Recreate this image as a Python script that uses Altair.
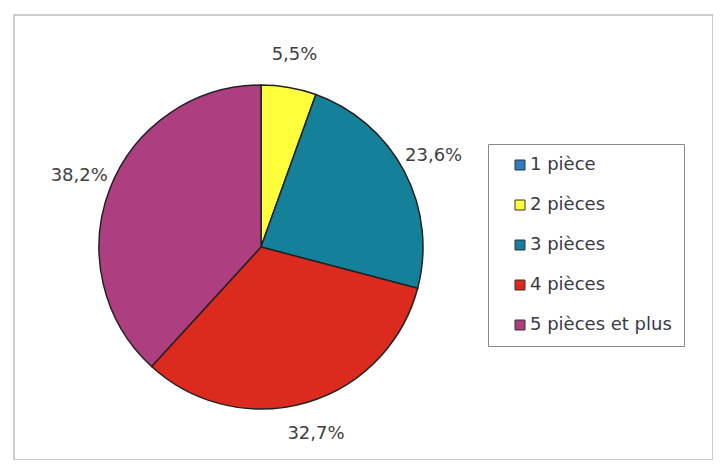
import altair as alt
import pandas as pd

categories = ["1 pièce", "2 pièces", "3 pièces", "4 pièces", "5 pièces et plus"]
values = [0.0, 5.5, 23.6, 32.7, 38.2]
colors = ["#2f7dc0", "#ffff3c", "#15809a", "#dc2a1e", "#ad3f80"]

df = pd.DataFrame({"cat": categories, "val": values, "idx": list(range(len(categories)))})
df["label"] = [f"{v:.1f}".replace(".", ",") + "%" for v in values]

cx, cy, R = 247, 232, 162
FONT = "DejaVu Sans"

base = alt.Chart(df).encode(
    theta=alt.Theta("val:Q", stack=True),
    order=alt.Order("idx:Q"),
)

pie = base.mark_arc(outerRadius=R, stroke="#222222", strokeWidth=1.5).encode(
    x=alt.value(cx),
    y=alt.value(cy),
    color=alt.Color(
        "cat:N",
        scale=alt.Scale(domain=categories, range=colors),
        legend=alt.Legend(
            title=None,
            orient="none",
            legendX=474,
            legendY=129,
            strokeColor="#8a8a8a",
            fillColor="white",
            padding=12,
            symbolType="square",
            symbolSize=100,
            symbolStrokeColor="#333333",
            symbolStrokeWidth=1,
            symbolOffset=11,
            labelFontSize=18,
            labelFont=FONT,
            labelColor="#3a3a48",
            rowPadding=22,
            labelOffset=1,
        ),
    ),
)

text = base.mark_text(radius=195, fontSize=18, font=FONT, color="#404040").encode(
    x=alt.value(cx),
    y=alt.value(cy),
    text="label:N",
).transform_filter("datum.val > 0")

chart = alt.layer(pie, text).properties(
    width=699,
    height=445,
    padding={"left": 6, "top": 7, "right": 0, "bottom": 0},
    autosize="none",
).configure_view(stroke="#bdbdbd", strokeWidth=1.5)

chart.save("out.html", embed_options={"renderer": "svg", "actions": False})
